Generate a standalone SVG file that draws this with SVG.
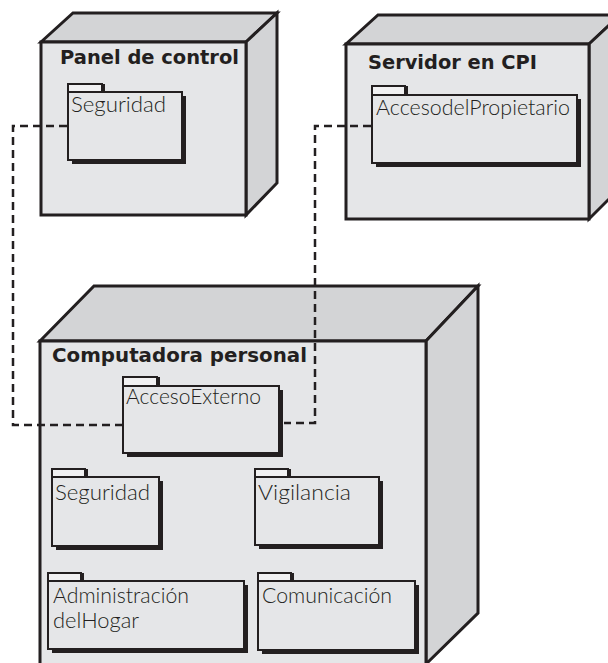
<svg xmlns="http://www.w3.org/2000/svg" width="608" height="663" viewBox="0 0 608 663">
<style>
.front{fill:#e5e6e8;stroke:#231f20;stroke-width:3;stroke-linejoin:miter}
.top{fill:#d3d4d6;stroke:#231f20;stroke-width:3;stroke-linejoin:miter}
.side{fill:#d3d4d6;stroke:#231f20;stroke-width:3;stroke-linejoin:miter}
.body{fill:#e5e6e8;stroke:#231f20;stroke-width:2}
.tab{fill:#f1f1f2;stroke:#231f20;stroke-width:2}
.shadow{fill:#231f20}
.title{font-family:"DejaVu Sans",sans-serif;font-weight:bold;font-size:20px;fill:#231f20}
.lbl{font-family:"Lato","Noto Sans",sans-serif;font-weight:300;font-size:21px;fill:#231f20}
.conn{fill:none;stroke:#231f20;stroke-width:2.5;stroke-dasharray:8 5}
</style>
<rect width="608" height="663" fill="#ffffff"/>

<g id="node-panel">
  <polygon class="top" points="41,42 73,13 277,13 246,42"/>
  <polygon class="side" points="246,42 277,13 277,183 246,215"/>
  <rect class="front" x="41" y="42" width="205" height="173"/>
  <text class="title" x="60" y="64" textLength="179" lengthAdjust="spacingAndGlyphs">Panel de control</text>
  <g id="pkg-seguridad-panel">
    <rect class="shadow" x="71" y="84" width="34" height="8"/>
    <rect class="tab" x="68" y="84" width="34" height="8"/>
    <rect class="shadow" x="72" y="96" width="114" height="68"/>
    <rect class="body" x="68" y="92" width="114" height="68"/>
    <text class="lbl" x="71" y="112" textLength="95" lengthAdjust="spacingAndGlyphs">Seguridad</text>
  </g>
</g>

<g id="node-servidor">
  <polygon class="top" points="346,44 378,15 620,15 589,44"/>
  <polygon class="side" points="589,44 620,15 620,188 589,219"/>
  <rect class="front" x="346" y="44" width="243" height="175"/>
  <text class="title" x="368" y="69" textLength="169" lengthAdjust="spacingAndGlyphs">Servidor en CPI</text>
  <g id="pkg-acceso-propietario">
    <rect class="shadow" x="375" y="86" width="33" height="9"/>
    <rect class="tab" x="372" y="86" width="33" height="9"/>
    <rect class="shadow" x="376" y="99" width="205" height="68"/>
    <rect class="body" x="372" y="95" width="205" height="68"/>
    <text class="lbl" x="376" y="115" textLength="194" lengthAdjust="spacingAndGlyphs">AccesodelPropietario</text>
  </g>
</g>

<g id="node-computadora">
  <polygon class="top" points="40,341 94,286 478,286 426,341"/>
  <polygon class="side" points="426,341 478,286 478,613 426,664"/>
  <rect class="front" x="40" y="341" width="386" height="340"/>
  <text class="title" x="52" y="362" textLength="255" lengthAdjust="spacingAndGlyphs">Computadora personal</text>
  <g id="pkg-acceso-externo">
    <rect class="shadow" x="126" y="377" width="34" height="9"/>
    <rect class="tab" x="123" y="377" width="34" height="9"/>
    <rect class="shadow" x="127" y="390" width="156" height="67"/>
    <rect class="body" x="123" y="386" width="156" height="67"/>
    <text class="lbl" x="126" y="404" textLength="135" lengthAdjust="spacingAndGlyphs">AccesoExterno</text>
  </g>
  <g id="pkg-seguridad-pc">
    <rect class="shadow" x="55" y="469" width="33" height="8"/>
    <rect class="tab" x="52" y="469" width="33" height="8"/>
    <rect class="shadow" x="56" y="481" width="107" height="69"/>
    <rect class="body" x="52" y="477" width="107" height="69"/>
    <text class="lbl" x="55" y="500" textLength="95" lengthAdjust="spacingAndGlyphs">Seguridad</text>
  </g>
  <g id="pkg-vigilancia">
    <rect class="shadow" x="258" y="469" width="33" height="8"/>
    <rect class="tab" x="255" y="469" width="33" height="8"/>
    <rect class="shadow" x="259" y="481" width="124" height="68"/>
    <rect class="body" x="255" y="477" width="124" height="68"/>
    <text class="lbl" x="258" y="500" textLength="93" lengthAdjust="spacingAndGlyphs">Vigilancia</text>
  </g>
  <g id="pkg-administracion">
    <rect class="shadow" x="51" y="573" width="33" height="8"/>
    <rect class="tab" x="48" y="573" width="33" height="8"/>
    <rect class="shadow" x="52" y="585" width="196" height="68"/>
    <rect class="body" x="48" y="581" width="196" height="68"/>
    <text class="lbl" x="53" y="603" textLength="136" lengthAdjust="spacingAndGlyphs">Administración</text>
    <text class="lbl" x="53" y="628" textLength="86" lengthAdjust="spacingAndGlyphs">delHogar</text>
  </g>
  <g id="pkg-comunicacion">
    <rect class="shadow" x="261" y="573" width="33" height="8"/>
    <rect class="tab" x="258" y="573" width="33" height="8"/>
    <rect class="shadow" x="262" y="585" width="157" height="69"/>
    <rect class="body" x="258" y="581" width="157" height="69"/>
    <text class="lbl" x="262" y="603" textLength="130" lengthAdjust="spacingAndGlyphs">Comunicación</text>
  </g>
</g>

<g id="connectors">
  <path class="conn" d="M67,126 H13 V425 H122"/>
  <path class="conn" d="M371,126 H315 V423 H284"/>
</g>
</svg>
